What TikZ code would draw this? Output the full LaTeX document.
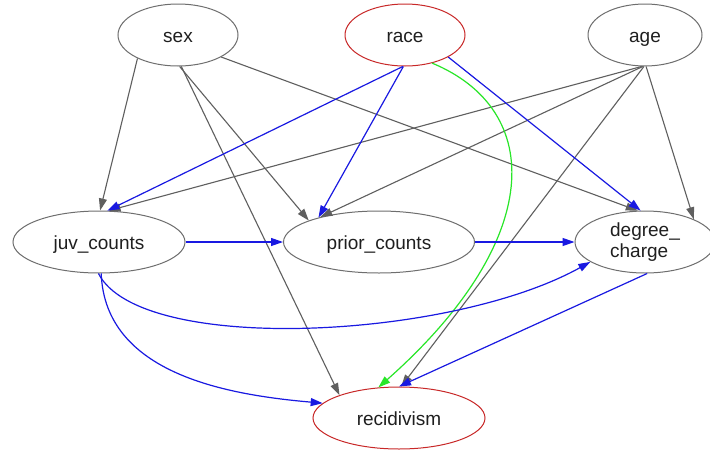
\documentclass[tikz,border=0pt]{standalone}
\usepackage{fontspec}
\setmainfont{Liberation Sans}
\usetikzlibrary{shapes.geometric,arrows.meta}

\definecolor{nodegray}{RGB}{110,110,110}
\definecolor{edgegray}{RGB}{95,95,95}
\definecolor{edgeblue}{RGB}{25,25,225}
\definecolor{edgegreen}{RGB}{40,230,40}
\definecolor{redline}{RGB}{200,40,40}

\tikzset{
  dagnode/.style={ellipse, draw=nodegray, line width=1pt, inner sep=0pt,
    minimum height=62pt, text=black!88,
    font=\fontsize{19}{21}\selectfont},
  oneline/.style={text height=16pt, text depth=2pt},
  tip/.style={-{Triangle[length=12pt,width=8pt]}},
  grayedge/.style={tip, draw=edgegray, line width=1.1pt},
  blueedge/.style={tip, draw=edgeblue, line width=1.2pt},
  greenedge/.style={tip, draw=edgegreen, line width=1.2pt},
}

\begin{document}
\begin{tikzpicture}[x=1pt,y=-1pt]
  \useasboundingbox[fill=white] (0,0) rectangle (710,453);

  % variables
  \node[dagnode, oneline, minimum width=120pt] (sex) at (178,35) {sex};
  \node[dagnode, oneline, draw=redline, minimum width=120pt] (race) at (405,35) {race};
  \node[dagnode, oneline, minimum width=114pt] (age) at (645,35) {age};
  \node[dagnode, oneline, minimum width=172pt] (juv) at (99,242) {juv\_counts};
  \node[dagnode, oneline, minimum width=191pt] (prior) at (379,242) {prior\_counts};
  \node[dagnode, minimum width=140pt, align=left] (deg) at (645,242) {degree\_\\charge};
  \node[dagnode, oneline, draw=redline, minimum width=172pt] (rec) at (399,418) {recidivism};

  % edges out of sex and age
  \draw[grayedge] (sex.210) -- (juv.88);
  \draw[grayedge] (sex.273) -- (prior.163);
  \draw[grayedge] (sex.276) -- (rec.159);
  \draw[grayedge] (sex.333) -- (deg.103);
  \draw[grayedge] (age.264) -- (juv.73);
  \draw[grayedge] (age.266) -- (prior.157);
  \draw[grayedge] (age.268) -- (rec.86);
  \draw[grayedge] (age.272) -- (deg.25);

  % edges out of race
  \draw[blueedge] (race.266) -- (juv.75);
  \draw[blueedge] (race.267) -- (prior.158);
  \draw[blueedge] (race.333) -- (deg.98);
  \draw[greenedge] (race.314) .. controls (545,110) and (545,240) .. (rec.124);

  % edges between the middle row and recidivism
  \draw[blueedge] (juv.0) -- (prior.180);
  \draw[blueedge] (prior.0) -- (deg.180);
  \draw[blueedge] (juv.269) .. controls (140,355) and (450,340) .. (deg.200);
  \draw[blueedge] (juv.274) .. controls (105,375) and (230,395) .. (rec.169);
  \draw[blueedge] (deg.274) -- (rec.90);
\end{tikzpicture}
\end{document}
